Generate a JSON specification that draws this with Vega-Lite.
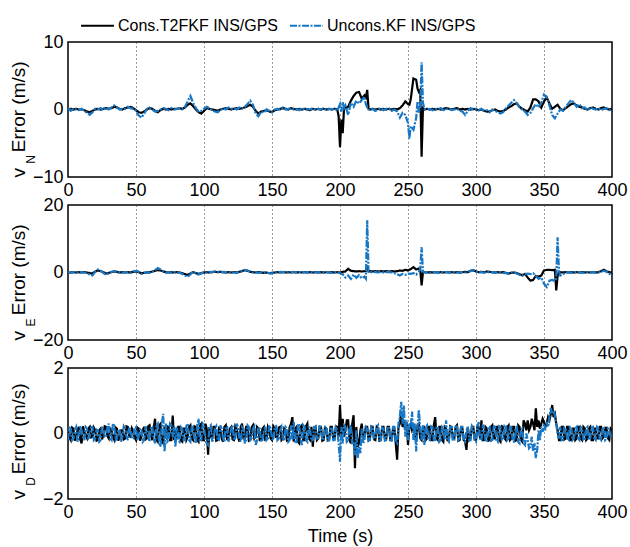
{
"$schema": "https://vega.github.io/schema/vega-lite/v6.json",
"padding": {"left": 8, "top": 8, "right": 2, "bottom": 0},
"background": "white",
"config": {
 "view": {"stroke": "#000", "strokeWidth": 1.5},
 "axis": {"labelFont": "Liberation Sans", "labelFontSize": 18, "labelColor": "#000", "titleFont": "Liberation Sans", "titleFontSize": 19, "titleFontWeight": "normal", "titleColor": "#000", "domain": false, "ticks": false, "labelFlush": false, "labelPadding": 5, "labelOverlap": false},
 "axisX": {"grid": true, "gridDash": [1, 3], "gridColor": "#333", "gridWidth": 1, "gridOpacity": 1, "labelPadding": 4, "titlePadding": 6, "titleFontSize": 18},
 "axisY": {"grid": false},
 "legend": {"labelFont": "Liberation Sans", "labelFontSize": 16, "labelColor": "#000", "labelLimit": 400, "orient": "none", "legendX": 12, "legendY": -34, "direction": "horizontal", "symbolType": "stroke", "symbolSize": 1089, "symbolStrokeWidth": 2, "labelOffset": 3, "columnPadding": 7, "padding": 0}
},
"datasets": {
"n": [
{"t":0,"c":0,"u":0.2},{"t":2,"c":0.1,"u":-0.2},{"t":4,"c":0,"u":0.1},{"t":6,"c":0.1,"u":0},{"t":8,"c":0,"u":-0.1},{"t":10,"c":0,"u":0.1},{"t":12,"c":-0.1,"u":-0.2},{"t":14,"c":-0.3,"u":-0.5},{"t":16,"c":-0.4,"u":-0.8},{"t":18,"c":-0.2,"u":-0.4},{"t":20,"c":0,"u":0.1},{"t":22,"c":0.1,"u":0},{"t":24,"c":0,"u":0.2},{"t":26,"c":0.1,"u":-0.1},{"t":28,"c":0.2,"u":0.3},{"t":30,"c":0.1,"u":0},{"t":32,"c":0.2,"u":0.3},{"t":34,"c":0.4,"u":0.6},{"t":36,"c":0.3,"u":0.3},{"t":38,"c":0.1,"u":0},{"t":40,"c":0,"u":0.1},{"t":42,"c":0.2,"u":0.1},{"t":44,"c":0.3,"u":0.4},{"t":46,"c":0.4,"u":0.2},{"t":48,"c":0.2,"u":0.1},{"t":50,"c":-0.1,"u":-0.2},{"t":52,"c":-0.4,"u":-0.9},{"t":54,"c":-0.5,"u":-1.2},{"t":56,"c":-0.3,"u":-0.6},{"t":58,"c":0,"u":0.1},{"t":60,"c":0.2,"u":0.3},{"t":62,"c":0.1,"u":0},{"t":64,"c":-0.2,"u":-0.3},{"t":66,"c":-0.4,"u":-0.2},{"t":68,"c":-0.1,"u":0},{"t":70,"c":0.1,"u":0.2},{"t":72,"c":0,"u":0.1},{"t":74,"c":0.1,"u":-0.1},{"t":76,"c":0,"u":0.2},{"t":78,"c":0.1,"u":0},{"t":80,"c":0.1,"u":0.1},{"t":82,"c":0.2,"u":0.2},{"t":84,"c":0.1,"u":0},{"t":86,"c":0.3,"u":0.4},{"t":88,"c":0.7,"u":1.2},{"t":90,"c":0.9,"u":2.0},{"t":92,"c":0.5,"u":1.0},{"t":94,"c":0,"u":0.2},{"t":96,"c":-0.4,"u":-0.3},{"t":98,"c":-0.6,"u":-0.2},{"t":100,"c":-0.2,"u":0.1},{"t":102,"c":0.2,"u":0.4},{"t":104,"c":0.1,"u":0.2},{"t":106,"c":0,"u":-0.1},{"t":108,"c":-0.1,"u":-0.3},{"t":110,"c":-0.2,"u":-0.4},{"t":112,"c":0,"u":-0.1},{"t":114,"c":0.1,"u":0.2},{"t":116,"c":0.2,"u":0},{"t":118,"c":0.1,"u":0.3},{"t":120,"c":0,"u":0.1},{"t":122,"c":0.1,"u":0.2},{"t":124,"c":0.2,"u":0},{"t":126,"c":0.1,"u":0.3},{"t":128,"c":0.2,"u":0.1},{"t":130,"c":0.3,"u":0.4},{"t":132,"c":0.5,"u":0.8},{"t":134,"c":0.7,"u":1.3},{"t":136,"c":0.4,"u":0.7},{"t":138,"c":-0.2,"u":-0.6},{"t":140,"c":-0.6,"u":-1.0},{"t":142,"c":-0.3,"u":-0.3},{"t":144,"c":-0.2,"u":-0.5},{"t":146,"c":-0.1,"u":0},{"t":148,"c":-0.3,"u":-0.2},{"t":150,"c":-0.4,"u":-0.4},{"t":152,"c":-0.1,"u":0},{"t":154,"c":0,"u":0.1},{"t":156,"c":0.1,"u":0},{"t":158,"c":0.2,"u":0.3},{"t":160,"c":0.1,"u":0},{"t":162,"c":0,"u":0.1},{"t":164,"c":0.2,"u":0.2},{"t":166,"c":0.1,"u":0},{"t":168,"c":0,"u":0.1},{"t":170,"c":0.1,"u":-0.1},{"t":172,"c":0,"u":0.2},{"t":174,"c":0.1,"u":0},{"t":176,"c":0,"u":0.1},{"t":178,"c":-0.1,"u":0},{"t":180,"c":0.1,"u":0.2},{"t":182,"c":0,"u":-0.1},{"t":184,"c":0.1,"u":0.1},{"t":186,"c":0,"u":0},{"t":188,"c":0.1,"u":0.2},{"t":190,"c":0,"u":-0.1},{"t":192,"c":0.1,"u":0.1},{"t":194,"c":0,"u":0},{"t":196,"c":0.1,"u":0.2},{"t":198,"c":0,"u":-0.2},{"t":199,"c":-1,"u":0.3},{"t":200,"c":-5.6,"u":0.8},{"t":201,"c":-1.5,"u":-0.3},{"t":202,"c":-3.5,"u":1.1},{"t":203,"c":0.3,"u":0.2},{"t":204,"c":0.2,"u":0.6},{"t":206,"c":0.4,"u":-0.8},{"t":208,"c":1.3,"u":1.0},{"t":210,"c":2.0,"u":0.4},{"t":212,"c":2.5,"u":1.3},{"t":214,"c":2.6,"u":0.9},{"t":216,"c":1.6,"u":1.4},{"t":218,"c":2.1,"u":1.9},{"t":219,"c":1.8,"u":0.8},{"t":220,"c":2.9,"u":0.3},{"t":221,"c":0.1,"u":0},{"t":222,"c":0,"u":-0.1},{"t":224,"c":0.1,"u":0.1},{"t":226,"c":0,"u":-0.2},{"t":228,"c":0.1,"u":0},{"t":230,"c":0,"u":0.2},{"t":232,"c":0.1,"u":-0.1},{"t":234,"c":0,"u":0.1},{"t":236,"c":0.1,"u":0.2},{"t":238,"c":0,"u":-0.2},{"t":240,"c":0.1,"u":0},{"t":242,"c":0,"u":-0.3},{"t":244,"c":0.2,"u":-1.2},{"t":246,"c":0.6,"u":-0.5},{"t":248,"c":1.2,"u":-0.8},{"t":250,"c":0.8,"u":-2.0},{"t":251,"c":0.7,"u":-4.3},{"t":252,"c":1.5,"u":-2.5},{"t":254,"c":4.6,"u":-3.0},{"t":256,"c":4.4,"u":-1.3},{"t":257,"c":3.1,"u":1.2},{"t":258,"c":2.6,"u":-0.5},{"t":259,"c":2.9,"u":0.5},{"t":260,"c":-7.0,"u":7.0},{"t":261,"c":0.2,"u":1.0},{"t":262,"c":0,"u":0.1},{"t":264,"c":0.1,"u":0},{"t":266,"c":0,"u":0.1},{"t":268,"c":0.1,"u":-0.1},{"t":270,"c":0,"u":0.1},{"t":272,"c":0.1,"u":0},{"t":274,"c":0,"u":0.2},{"t":276,"c":0.1,"u":-0.1},{"t":278,"c":0.2,"u":0},{"t":280,"c":0.1,"u":0.2},{"t":282,"c":0,"u":-0.1},{"t":284,"c":0.1,"u":0},{"t":286,"c":0.2,"u":0.1},{"t":288,"c":0,"u":-0.2},{"t":290,"c":0.1,"u":-0.3},{"t":292,"c":0,"u":-0.8},{"t":294,"c":0.1,"u":-0.2},{"t":296,"c":0,"u":0.2},{"t":298,"c":0.1,"u":0},{"t":300,"c":0,"u":0.1},{"t":302,"c":-0.1,"u":-0.1},{"t":304,"c":0,"u":0.1},{"t":306,"c":-0.2,"u":-0.2},{"t":308,"c":-0.3,"u":-0.1},{"t":310,"c":-0.3,"u":-0.4},{"t":312,"c":-0.1,"u":0},{"t":314,"c":0,"u":-0.2},{"t":316,"c":-0.2,"u":-0.4},{"t":318,"c":-0.3,"u":-0.6},{"t":320,"c":-0.2,"u":-0.4},{"t":322,"c":0,"u":0.2},{"t":324,"c":0.3,"u":0.6},{"t":326,"c":0.5,"u":1.0},{"t":328,"c":0.8,"u":1.4},{"t":330,"c":0.9,"u":0.9},{"t":332,"c":0.4,"u":0.3},{"t":334,"c":0.1,"u":0},{"t":336,"c":-0.1,"u":-0.3},{"t":338,"c":-0.3,"u":-0.8},{"t":340,"c":0.3,"u":-0.5},{"t":342,"c":1.5,"u":0.2},{"t":344,"c":1.5,"u":0.8},{"t":346,"c":1.2,"u":0.3},{"t":348,"c":0.3,"u":1.0},{"t":350,"c":1.2,"u":2.2},{"t":352,"c":1.8,"u":1.8},{"t":354,"c":0.9,"u":0.6},{"t":356,"c":0.1,"u":-0.8},{"t":358,"c":0.4,"u":-1.3},{"t":360,"c":0.7,"u":-0.6},{"t":362,"c":0.1,"u":0},{"t":364,"c":-0.1,"u":-0.2},{"t":366,"c":0.2,"u":0.4},{"t":368,"c":0.5,"u":0.9},{"t":370,"c":0.8,"u":1.4},{"t":372,"c":0.9,"u":1.0},{"t":374,"c":0.6,"u":0.4},{"t":376,"c":0.4,"u":0.8},{"t":378,"c":0.3,"u":0.2},{"t":380,"c":0.1,"u":0.3},{"t":382,"c":0,"u":-0.1},{"t":384,"c":0.2,"u":0.3},{"t":386,"c":0.3,"u":0.1},{"t":388,"c":0.1,"u":0},{"t":390,"c":0,"u":0.2},{"t":392,"c":0.2,"u":-0.1},{"t":394,"c":0.3,"u":0.1},{"t":396,"c":0.1,"u":0.2},{"t":398,"c":0,"u":-0.1},{"t":400,"c":0.1,"u":0}
],
"e": [
{"t":0,"c":0,"u":0.1},{"t":2,"c":0,"u":-0.1},{"t":4,"c":0.1,"u":0.1},{"t":6,"c":0,"u":0},{"t":8,"c":0.1,"u":-0.1},{"t":10,"c":0,"u":0.1},{"t":12,"c":0.1,"u":0},{"t":14,"c":0,"u":-0.2},{"t":16,"c":-0.2,"u":-0.6},{"t":18,"c":-0.3,"u":-0.9},{"t":20,"c":0.3,"u":0.2},{"t":22,"c":0.6,"u":0.9},{"t":24,"c":0.4,"u":0.5},{"t":26,"c":0.1,"u":-0.1},{"t":28,"c":-0.3,"u":-0.7},{"t":30,"c":-0.1,"u":-0.2},{"t":32,"c":0.1,"u":0.2},{"t":34,"c":0.3,"u":0.4},{"t":36,"c":0.2,"u":0},{"t":38,"c":0,"u":0.1},{"t":40,"c":0.1,"u":-0.1},{"t":42,"c":0,"u":0.1},{"t":44,"c":0.1,"u":0},{"t":46,"c":0,"u":-0.1},{"t":48,"c":0.2,"u":0.3},{"t":50,"c":0.3,"u":0.5},{"t":52,"c":0.1,"u":0.2},{"t":54,"c":-0.2,"u":-0.4},{"t":56,"c":-0.1,"u":-0.1},{"t":58,"c":0,"u":0.1},{"t":60,"c":0.1,"u":-0.1},{"t":62,"c":0.3,"u":0.2},{"t":64,"c":0.5,"u":0.7},{"t":66,"c":0.7,"u":1.3},{"t":68,"c":0.6,"u":0.9},{"t":70,"c":0.3,"u":0.4},{"t":72,"c":0.1,"u":0},{"t":74,"c":0,"u":0.1},{"t":76,"c":0.1,"u":-0.1},{"t":78,"c":0,"u":0.1},{"t":80,"c":0.1,"u":0},{"t":82,"c":0,"u":-0.1},{"t":84,"c":-0.2,"u":-0.4},{"t":86,"c":-0.5,"u":-0.9},{"t":88,"c":-0.7,"u":-1.3},{"t":90,"c":-0.3,"u":-0.5},{"t":92,"c":0.1,"u":0.2},{"t":94,"c":-0.2,"u":-0.3},{"t":96,"c":-0.4,"u":-0.6},{"t":98,"c":-0.2,"u":-0.2},{"t":100,"c":0,"u":0.1},{"t":102,"c":0.1,"u":0},{"t":104,"c":0,"u":0.2},{"t":106,"c":0.1,"u":0.1},{"t":108,"c":0.2,"u":0.3},{"t":110,"c":0.1,"u":0.2},{"t":112,"c":0.2,"u":0},{"t":114,"c":0.1,"u":0.2},{"t":116,"c":0,"u":0.1},{"t":118,"c":0.1,"u":-0.1},{"t":120,"c":0,"u":0.1},{"t":122,"c":0.1,"u":0},{"t":124,"c":0,"u":-0.1},{"t":126,"c":0.2,"u":0.2},{"t":128,"c":0.4,"u":0.5},{"t":130,"c":0.7,"u":0.8},{"t":132,"c":0.5,"u":0.6},{"t":134,"c":0.2,"u":0.2},{"t":136,"c":0.1,"u":0},{"t":138,"c":0,"u":0.1},{"t":140,"c":0.1,"u":-0.1},{"t":142,"c":0,"u":0},{"t":144,"c":-0.1,"u":0.1},{"t":146,"c":0,"u":-0.1},{"t":148,"c":-0.2,"u":-0.2},{"t":150,"c":-0.1,"u":-0.3},{"t":152,"c":0,"u":0.1},{"t":154,"c":0.1,"u":0},{"t":156,"c":0,"u":0.2},{"t":158,"c":0.1,"u":0.1},{"t":160,"c":0,"u":0.2},{"t":162,"c":0.1,"u":0},{"t":164,"c":0,"u":0.1},{"t":166,"c":0.1,"u":0.2},{"t":168,"c":0,"u":0},{"t":170,"c":0.1,"u":0.1},{"t":172,"c":0,"u":0.2},{"t":174,"c":0.1,"u":0},{"t":176,"c":0,"u":0.1},{"t":178,"c":0.1,"u":-0.1},{"t":180,"c":0,"u":0.1},{"t":182,"c":0.1,"u":0},{"t":184,"c":0,"u":0.1},{"t":186,"c":0.1,"u":-0.1},{"t":188,"c":0,"u":0},{"t":190,"c":0.1,"u":0.1},{"t":192,"c":0,"u":0},{"t":194,"c":0.1,"u":-0.1},{"t":196,"c":0,"u":0},{"t":198,"c":0.1,"u":0.1},{"t":200,"c":0,"u":-0.2},{"t":202,"c":0.2,"u":-0.5},{"t":204,"c":0.3,"u":-1.5},{"t":206,"c":1.1,"u":-0.9},{"t":208,"c":0.5,"u":-1.9},{"t":210,"c":0.4,"u":-0.6},{"t":212,"c":0.3,"u":-1.6},{"t":214,"c":0.4,"u":-0.8},{"t":216,"c":0.3,"u":-1.7},{"t":218,"c":0.4,"u":-1.2},{"t":219,"c":0.5,"u":-1.8},{"t":220,"c":1.4,"u":15.5},{"t":221,"c":0.3,"u":0.2},{"t":222,"c":0.4,"u":0},{"t":224,"c":0.3,"u":0.2},{"t":226,"c":0.4,"u":0.1},{"t":228,"c":0.3,"u":0},{"t":230,"c":0.4,"u":0.2},{"t":232,"c":0.3,"u":0},{"t":234,"c":0.4,"u":0.1},{"t":236,"c":0.3,"u":0.2},{"t":238,"c":0.4,"u":0},{"t":240,"c":0.3,"u":-0.2},{"t":242,"c":0.4,"u":-0.5},{"t":244,"c":0.6,"u":-0.9},{"t":246,"c":0.5,"u":-0.4},{"t":248,"c":0.8,"u":-0.7},{"t":250,"c":0.6,"u":-0.3},{"t":252,"c":1.0,"u":-0.4},{"t":254,"c":1.6,"u":-0.2},{"t":256,"c":0.9,"u":-0.6},{"t":258,"c":1.2,"u":0.3},{"t":259,"c":0.8,"u":1.0},{"t":260,"c":-3.8,"u":7.5},{"t":261,"c":0,"u":0.3},{"t":262,"c":0.1,"u":0},{"t":264,"c":0,"u":0.1},{"t":266,"c":0.1,"u":-0.1},{"t":268,"c":0,"u":0},{"t":270,"c":0.1,"u":0.1},{"t":272,"c":0,"u":-0.1},{"t":274,"c":0.1,"u":0.1},{"t":276,"c":0,"u":0},{"t":278,"c":0.1,"u":0.2},{"t":280,"c":0,"u":0},{"t":282,"c":0.1,"u":-0.1},{"t":284,"c":0,"u":0.1},{"t":286,"c":0.1,"u":0},{"t":288,"c":0,"u":-0.1},{"t":290,"c":0.1,"u":0.1},{"t":292,"c":0.2,"u":0},{"t":294,"c":0.1,"u":0.2},{"t":296,"c":0.5,"u":0.4},{"t":298,"c":0.7,"u":0.7},{"t":300,"c":0.3,"u":0.2},{"t":302,"c":0.1,"u":0},{"t":304,"c":0.2,"u":0.1},{"t":306,"c":0.1,"u":-0.1},{"t":308,"c":0.3,"u":0.2},{"t":310,"c":0.2,"u":0},{"t":312,"c":0.1,"u":0.1},{"t":314,"c":0,"u":-0.1},{"t":316,"c":0.1,"u":0},{"t":318,"c":0,"u":0.1},{"t":320,"c":0.1,"u":-0.1},{"t":322,"c":-0.1,"u":-0.2},{"t":324,"c":-0.3,"u":-0.4},{"t":326,"c":-0.1,"u":0},{"t":328,"c":0,"u":0.1},{"t":330,"c":-0.2,"u":-0.3},{"t":332,"c":-0.5,"u":-0.7},{"t":334,"c":-0.8,"u":-1.0},{"t":336,"c":-0.4,"u":-0.5},{"t":338,"c":-1.5,"u":-0.3},{"t":340,"c":-2.4,"u":-0.5},{"t":342,"c":-2.2,"u":-0.2},{"t":344,"c":-1.0,"u":-1.0},{"t":346,"c":-1.2,"u":-1.9},{"t":348,"c":-0.9,"u":-1.5},{"t":350,"c":0.6,"u":-3.3},{"t":352,"c":0.8,"u":-4.3},{"t":354,"c":0.8,"u":-2.4},{"t":356,"c":0.7,"u":-2.2},{"t":358,"c":0.8,"u":-2.5},{"t":359,"c":-5.3,"u":-1.8},{"t":360,"c":-1.0,"u":10.4},{"t":361,"c":0.2,"u":0.5},{"t":362,"c":0.1,"u":-0.9},{"t":364,"c":0,"u":-0.5},{"t":366,"c":0.1,"u":0},{"t":368,"c":0,"u":0.1},{"t":370,"c":0.1,"u":-0.1},{"t":372,"c":0,"u":0.1},{"t":374,"c":0.1,"u":0},{"t":376,"c":0,"u":0.1},{"t":378,"c":0.1,"u":-0.1},{"t":380,"c":0,"u":0},{"t":382,"c":0.1,"u":0.1},{"t":384,"c":0,"u":0},{"t":386,"c":0.1,"u":0.1},{"t":388,"c":0,"u":-0.1},{"t":390,"c":0.1,"u":0},{"t":392,"c":0.4,"u":0.2},{"t":394,"c":0.8,"u":0.5},{"t":396,"c":0.3,"u":0.2},{"t":398,"c":0.1,"u":-0.4},{"t":400,"c":0,"u":0}
],
"d": [
{"t":0,"c":0.1,"u":-0.2},{"t":1,"c":-0.12,"u":0.18},{"t":2,"c":-0.2,"u":0.15},{"t":3,"c":0.18,"u":-0.2},{"t":4,"c":0.15,"u":-0.15},{"t":5,"c":-0.22,"u":0.12},{"t":6,"c":-0.1,"u":0.2},{"t":7,"c":0.1,"u":-0.25},{"t":8,"c":0.2,"u":-0.1},{"t":9,"c":-0.18,"u":0.22},
{"t":10,"c":-0.3,"u":0.1},{"t":11,"c":0.22,"u":-0.1},{"t":12,"c":0.05,"u":-0.2},{"t":13,"c":-0.08,"u":0.2},{"t":14,"c":-0.15,"u":0.15},{"t":15,"c":0.15,"u":-0.15},{"t":16,"c":0.2,"u":-0.1},{"t":17,"c":-0.12,"u":0.18},{"t":18,"c":-0.1,"u":0.2},{"t":19,"c":0.18,"u":-0.2},
{"t":20,"c":0.1,"u":-0.15},{"t":21,"c":-0.22,"u":0.12},{"t":22,"c":-0.2,"u":0.1},{"t":23,"c":0.1,"u":-0.25},{"t":24,"c":0.15,"u":-0.2},{"t":25,"c":-0.18,"u":0.22},{"t":26,"c":-0.05,"u":0.15},{"t":27,"c":0.22,"u":-0.1},{"t":28,"c":0.2,"u":-0.1},{"t":29,"c":-0.08,"u":0.2},
{"t":30,"c":-0.15,"u":0.3},{"t":31,"c":0.15,"u":-0.15},{"t":32,"c":0.1,"u":-0.2},{"t":33,"c":-0.12,"u":0.3},{"t":34,"c":-0.2,"u":0.25},{"t":35,"c":0.18,"u":-0.2},{"t":36,"c":0.15,"u":-0.15},{"t":37,"c":-0.22,"u":0.12},{"t":38,"c":-0.1,"u":0.1},{"t":39,"c":0.1,"u":-0.25},
{"t":40,"c":0.1,"u":-0.1},{"t":41,"c":-0.18,"u":0.22},{"t":42,"c":-0.15,"u":0.15},{"t":43,"c":0.22,"u":-0.1},{"t":44,"c":0.2,"u":-0.2},{"t":45,"c":-0.08,"u":0.2},{"t":46,"c":-0.1,"u":0.1},{"t":47,"c":0.15,"u":-0.15},{"t":48,"c":0.05,"u":-0.15},{"t":49,"c":-0.12,"u":0.18},
{"t":50,"c":-0.2,"u":0.2},{"t":51,"c":0.18,"u":-0.2},{"t":52,"c":0.15,"u":-0.1},{"t":53,"c":-0.22,"u":0.12},{"t":54,"c":-0.1,"u":0.15},{"t":55,"c":0.1,"u":-0.25},{"t":56,"c":0.2,"u":-0.2},{"t":57,"c":-0.18,"u":0.22},{"t":58,"c":-0.15,"u":0.1},{"t":59,"c":0.22,"u":-0.1},
{"t":60,"c":0.25,"u":-0.25},{"t":61,"c":-0.08,"u":0.2},{"t":62,"c":-0.2,"u":0.2},{"t":63,"c":0.15,"u":-0.15},{"t":64,"c":0.45,"u":-0.3},{"t":65,"c":-0.2,"u":0.25},{"t":66,"c":-0.25,"u":0.3},{"t":67,"c":0.25,"u":-0.3},{"t":68,"c":0.3,"u":-0.4},{"t":69,"c":-0.25,"u":0.3},
{"t":70,"c":-0.3,"u":0.6},{"t":71,"c":0.2,"u":-0.55},{"t":72,"c":-0.15,"u":0.3},{"t":73,"c":0.22,"u":-0.25},{"t":74,"c":0.2,"u":-0.2},{"t":75,"c":-0.2,"u":0.3},{"t":76,"c":-0.2,"u":0.25},{"t":77,"c":0.55,"u":-0.1},{"t":78,"c":-0.2,"u":0.2},{"t":79,"c":0.1,"u":-0.4},
{"t":80,"c":-0.15,"u":0.2},{"t":81,"c":0.2,"u":-0.2},{"t":82,"c":0.2,"u":-0.25},{"t":83,"c":-0.22,"u":0.2},{"t":84,"c":-0.25,"u":0.15},{"t":85,"c":0.15,"u":-0.2},{"t":86,"c":0.15,"u":-0.2},{"t":87,"c":-0.2,"u":0.22},{"t":88,"c":-0.1,"u":0.3},{"t":89,"c":0.2,"u":-0.2},
{"t":90,"c":0.25,"u":-0.25},{"t":91,"c":-0.15,"u":0.2},{"t":92,"c":-0.2,"u":0.2},{"t":93,"c":0.22,"u":-0.2},{"t":94,"c":0.2,"u":-0.3},{"t":95,"c":-0.2,"u":0.25},{"t":96,"c":-0.25,"u":0.45},{"t":97,"c":0.25,"u":-0.25},{"t":98,"c":0.3,"u":-0.2},{"t":99,"c":-0.2,"u":0.3},
{"t":100,"c":-0.2,"u":0.25},{"t":101,"c":0.3,"u":-0.2},{"t":102,"c":0.15,"u":-0.3},{"t":103,"c":-0.65,"u":-0.35},{"t":104,"c":0.2,"u":0.2},{"t":105,"c":-0.1,"u":0.25},{"t":106,"c":-0.15,"u":-0.25},{"t":107,"c":0.2,"u":-0.15},{"t":108,"c":0.2,"u":0.15},{"t":109,"c":-0.22,"u":0.22},
{"t":110,"c":-0.2,"u":-0.2},{"t":111,"c":0.15,"u":-0.2},{"t":112,"c":0.1,"u":0.25},{"t":113,"c":-0.15,"u":0.15},{"t":114,"c":-0.25,"u":-0.15},{"t":115,"c":0.2,"u":-0.25},{"t":116,"c":0.25,"u":0.2},{"t":117,"c":-0.2,"u":0.2},{"t":118,"c":-0.1,"u":-0.25},{"t":119,"c":0.15,"u":-0.1},
{"t":120,"c":0.2,"u":0.15},{"t":121,"c":-0.18,"u":0.25},{"t":122,"c":-0.2,"u":-0.2},{"t":123,"c":0.22,"u":-0.15},{"t":124,"c":0.15,"u":0.3},{"t":125,"c":-0.1,"u":0.2},{"t":126,"c":-0.25,"u":-0.15},{"t":127,"c":0.2,"u":-0.25},{"t":128,"c":0.3,"u":0.2},{"t":129,"c":-0.15,"u":0.15},
{"t":130,"c":-0.15,"u":-0.3},{"t":131,"c":0.2,"u":-0.2},{"t":132,"c":0.2,"u":0.25},{"t":133,"c":-0.22,"u":0.2},{"t":134,"c":-0.2,"u":-0.2},{"t":135,"c":0.18,"u":-0.15},{"t":136,"c":0.25,"u":0.15},{"t":137,"c":-0.15,"u":0.22},{"t":138,"c":-0.1,"u":-0.35},{"t":139,"c":0.2,"u":-0.2},
{"t":140,"c":0.15,"u":0.2},{"t":141,"c":-0.2,"u":0.15},{"t":142,"c":-0.2,"u":-0.25},{"t":143,"c":0.15,"u":-0.2},{"t":144,"c":0.2,"u":0.1},{"t":145,"c":-0.18,"u":0.2},{"t":146,"c":-0.15,"u":-0.2},{"t":147,"c":0.2,"u":-0.15},{"t":148,"c":0.1,"u":0.25},{"t":149,"c":-0.15,"u":0.15},
{"t":150,"c":-0.2,"u":-0.15},{"t":151,"c":0.22,"u":-0.2},{"t":152,"c":0.15,"u":0.2},{"t":153,"c":-0.1,"u":0.22},{"t":154,"c":-0.1,"u":-0.2},{"t":155,"c":0.18,"u":-0.15},{"t":156,"c":0.2,"u":0.1},{"t":157,"c":-0.2,"u":0.2},{"t":158,"c":-0.15,"u":-0.15},{"t":159,"c":0.15,"u":-0.22},
{"t":160,"c":0.1,"u":0.2},{"t":161,"c":-0.22,"u":0.15},{"t":162,"c":-0.2,"u":-0.25},{"t":163,"c":0.2,"u":-0.2},{"t":164,"c":0.3,"u":0.25},{"t":165,"c":0.5,"u":-0.2},{"t":166,"c":-0.25,"u":0.35},{"t":167,"c":0.15,"u":-0.25},{"t":168,"c":0.2,"u":-0.3},{"t":169,"c":-0.25,"u":0.25},
{"t":170,"c":-0.3,"u":0.3},{"t":171,"c":0.2,"u":-0.2},{"t":172,"c":0.25,"u":-0.35},{"t":173,"c":-0.2,"u":0.25},{"t":174,"c":-0.2,"u":0.2},{"t":175,"c":0.22,"u":-0.2},{"t":176,"c":0.3,"u":-0.25},{"t":177,"c":-0.15,"u":0.2},{"t":178,"c":-0.2,"u":0.15},{"t":179,"c":0.2,"u":-0.22},
{"t":180,"c":-0.4,"u":-0.2},{"t":181,"c":0.15,"u":0.2},{"t":182,"c":0.2,"u":0.2},{"t":183,"c":-0.2,"u":-0.15},{"t":184,"c":-0.15,"u":-0.15},{"t":185,"c":0.2,"u":0.22},{"t":186,"c":0.2,"u":0.2},{"t":187,"c":-0.22,"u":-0.2},{"t":188,"c":-0.2,"u":-0.15},{"t":189,"c":0.18,"u":0.2},
{"t":190,"c":0.15,"u":0.2},{"t":191,"c":-0.2,"u":-0.22},{"t":192,"c":-0.2,"u":-0.2},{"t":193,"c":0.2,"u":0.15},{"t":194,"c":0.2,"u":0.15},{"t":195,"c":-0.15,"u":-0.2},{"t":196,"c":-0.15,"u":-0.2},{"t":197,"c":0.22,"u":0.18},{"t":198,"c":0.2,"u":0.1},{"t":199,"c":-0.1,"u":-0.3},
{"t":200,"c":0.87,"u":-0.86},{"t":201,"c":-0.1,"u":0.2},{"t":202,"c":0.45,"u":-0.3},{"t":203,"c":-0.1,"u":0.25},{"t":204,"c":0.1,"u":0.2},{"t":205,"c":0.4,"u":-0.25},{"t":206,"c":0.4,"u":-0.2},{"t":207,"c":-0.2,"u":0.2},{"t":208,"c":-0.3,"u":0.25},{"t":209,"c":0.3,"u":-0.3},
{"t":210,"c":0.56,"u":-0.3},{"t":211,"c":-1.06,"u":-0.66},{"t":212,"c":0.2,"u":0.1},{"t":213,"c":-0.4,"u":-0.75},{"t":214,"c":-0.3,"u":-0.4},{"t":215,"c":0.1,"u":-0.6},{"t":216,"c":0.3,"u":0.15},{"t":217,"c":-0.2,"u":-0.3},{"t":218,"c":-0.1,"u":-0.2},{"t":219,"c":0.2,"u":0.2},
{"t":220,"c":0.2,"u":0.15},{"t":221,"c":-0.2,"u":-0.2},{"t":222,"c":-0.15,"u":-0.2},{"t":223,"c":0.2,"u":0.22},{"t":224,"c":0.2,"u":0.2},{"t":225,"c":-0.18,"u":-0.15},{"t":226,"c":-0.2,"u":-0.15},{"t":227,"c":0.2,"u":0.2},{"t":228,"c":0.15,"u":0.25},{"t":229,"c":-0.22,"u":-0.2},
{"t":230,"c":-0.2,"u":-0.2},{"t":231,"c":0.2,"u":0.18},{"t":232,"c":0.2,"u":0.15},{"t":233,"c":-0.15,"u":-0.22},{"t":234,"c":-0.15,"u":-0.2},{"t":235,"c":0.2,"u":0.2},{"t":236,"c":0.2,"u":0.2},{"t":237,"c":-0.2,"u":-0.2},{"t":238,"c":-0.2,"u":-0.25},{"t":239,"c":0.15,"u":0.2},
{"t":240,"c":0.15,"u":0.2},{"t":241,"c":-0.3,"u":-0.25},{"t":242,"c":-0.8,"u":-0.3},{"t":243,"c":0.2,"u":0.3},{"t":244,"c":0.3,"u":0.5},{"t":245,"c":0.67,"u":0.97},{"t":246,"c":0.2,"u":0.3},{"t":247,"c":0.3,"u":0.85},{"t":248,"c":0.1,"u":-0.1},{"t":249,"c":0.35,"u":0.4},
{"t":250,"c":-0.35,"u":-0.2},{"t":251,"c":0.2,"u":0.3},{"t":252,"c":0.3,"u":0.2},{"t":253,"c":0.1,"u":0.67},{"t":254,"c":0.2,"u":-0.2},{"t":255,"c":-0.1,"u":0.3},{"t":256,"c":-0.2,"u":-0.55},{"t":257,"c":0.25,"u":0.2},{"t":258,"c":0.3,"u":0.72},{"t":259,"c":-0.15,"u":0.1},
{"t":260,"c":-0.2,"u":-0.2},{"t":261,"c":0.2,"u":0.25},{"t":262,"c":0.2,"u":-0.35},{"t":263,"c":-0.2,"u":0.2},{"t":264,"c":-0.15,"u":0.25},{"t":265,"c":0.2,"u":-0.2},{"t":266,"c":0.2,"u":-0.2},{"t":267,"c":-0.2,"u":0.22},{"t":268,"c":-0.2,"u":0.2},{"t":269,"c":0.25,"u":-0.2},
{"t":270,"c":0.5,"u":-0.25},{"t":271,"c":-0.15,"u":0.2},{"t":272,"c":-0.2,"u":0.2},{"t":273,"c":0.2,"u":-0.25},{"t":274,"c":0.2,"u":-0.2},{"t":275,"c":-0.2,"u":0.2},{"t":276,"c":-0.25,"u":0.15},{"t":277,"c":0.2,"u":-0.2},{"t":278,"c":0.15,"u":0.4},{"t":279,"c":-0.2,"u":-0.2},
{"t":280,"c":-0.2,"u":-0.25},{"t":281,"c":0.22,"u":0.2},{"t":282,"c":0.2,"u":0.2},{"t":283,"c":-0.15,"u":-0.22},{"t":284,"c":-0.15,"u":-0.2},{"t":285,"c":0.2,"u":0.2},{"t":286,"c":0.25,"u":0.25},{"t":287,"c":-0.22,"u":-0.2},{"t":288,"c":-0.2,"u":-0.15},{"t":289,"c":0.18,"u":0.2},
{"t":290,"c":0.15,"u":0.2},{"t":291,"c":-0.2,"u":-0.2},{"t":292,"c":-0.25,"u":-0.25},{"t":293,"c":-0.5,"u":0.1},{"t":294,"c":0.2,"u":0.2},{"t":295,"c":-0.2,"u":-0.2},{"t":296,"c":-0.15,"u":-0.2},{"t":297,"c":0.2,"u":0.22},{"t":298,"c":0.2,"u":0.15},{"t":299,"c":-0.18,"u":-0.2},
{"t":300,"c":-0.2,"u":-0.25},{"t":301,"c":0.2,"u":0.2},{"t":302,"c":0.2,"u":0.35},{"t":303,"c":-0.15,"u":-0.2},{"t":304,"c":0.4,"u":-0.2},{"t":305,"c":-0.2,"u":0.25},{"t":306,"c":-0.2,"u":0.2},{"t":307,"c":0.2,"u":-0.2},{"t":308,"c":0.15,"u":-0.25},{"t":309,"c":-0.22,"u":0.2},
{"t":310,"c":-0.2,"u":0.2},{"t":311,"c":0.2,"u":-0.22},{"t":312,"c":0.25,"u":-0.2},{"t":313,"c":-0.15,"u":0.2},{"t":314,"c":-0.15,"u":0.25},{"t":315,"c":0.2,"u":-0.2},{"t":316,"c":0.2,"u":-0.25},{"t":317,"c":-0.2,"u":0.22},{"t":318,"c":-0.25,"u":0.2},{"t":319,"c":0.22,"u":-0.2},
{"t":320,"c":0.2,"u":-0.2},{"t":321,"c":-0.15,"u":0.25},{"t":322,"c":-0.2,"u":0.25},{"t":323,"c":0.2,"u":-0.2},{"t":324,"c":0.25,"u":-0.15},{"t":325,"c":-0.2,"u":0.2},{"t":326,"c":-0.15,"u":0.2},{"t":327,"c":0.2,"u":-0.25},{"t":328,"c":0.2,"u":-0.25},{"t":329,"c":-0.22,"u":0.15},
{"t":330,"c":-0.2,"u":0.2},{"t":331,"c":0.25,"u":-0.25},{"t":332,"c":0.2,"u":-0.3},{"t":333,"c":-0.2,"u":0.1},{"t":334,"c":-0.25,"u":0.15},{"t":335,"c":0.4,"u":-0.3},{"t":336,"c":0.3,"u":-0.35},{"t":337,"c":0.1,"u":0},{"t":338,"c":0.4,"u":-0.2},{"t":339,"c":0.1,"u":-0.45},
{"t":340,"c":0.2,"u":-0.4},{"t":341,"c":0.45,"u":-0.1},{"t":342,"c":0.3,"u":-0.55},{"t":343,"c":0.1,"u":-0.3},{"t":344,"c":0.77,"u":-0.75},{"t":345,"c":0.2,"u":-0.5},{"t":346,"c":0.4,"u":0.1},{"t":347,"c":0.15,"u":-0.2},{"t":348,"c":0.3,"u":0.2},{"t":349,"c":0.45,"u":0.05},
{"t":350,"c":0.35,"u":0.3},{"t":351,"c":0.2,"u":0.1},{"t":352,"c":0.3,"u":0.35},{"t":353,"c":0.5,"u":0.2},{"t":354,"c":0.4,"u":0.5},{"t":355,"c":0.6,"u":0.77},{"t":356,"c":0.87,"u":0.6},{"t":357,"c":0.5,"u":0.7},{"t":358,"c":0.6,"u":0.56},{"t":359,"c":0.3,"u":0.3},
{"t":360,"c":0.1,"u":0},{"t":361,"c":-0.2,"u":-0.15},{"t":362,"c":-0.2,"u":0.2},{"t":363,"c":0.2,"u":-0.2},{"t":364,"c":0.2,"u":-0.2},{"t":365,"c":-0.18,"u":0.18},{"t":366,"c":-0.15,"u":0.15},{"t":367,"c":0.2,"u":-0.18},{"t":368,"c":0.2,"u":-0.2},{"t":369,"c":-0.2,"u":0.2},
{"t":370,"c":-0.2,"u":0.2},{"t":371,"c":0.15,"u":-0.2},{"t":372,"c":0.15,"u":-0.15},{"t":373,"c":-0.2,"u":0.15},{"t":374,"c":-0.15,"u":0.2},{"t":375,"c":0.2,"u":-0.15},{"t":376,"c":0.2,"u":-0.2},{"t":377,"c":-0.15,"u":0.2},{"t":378,"c":-0.2,"u":0.15},{"t":379,"c":0.2,"u":-0.2},
{"t":380,"c":0.15,"u":-0.2},{"t":381,"c":-0.2,"u":0.15},{"t":382,"c":-0.15,"u":0.2},{"t":383,"c":0.15,"u":-0.2},{"t":384,"c":0.2,"u":-0.15},{"t":385,"c":-0.2,"u":0.18},{"t":386,"c":-0.2,"u":0.2},{"t":387,"c":0.15,"u":-0.15},{"t":388,"c":0.15,"u":-0.2},{"t":389,"c":-0.15,"u":0.2},
{"t":390,"c":-0.15,"u":0.15},{"t":391,"c":0.2,"u":-0.15},{"t":392,"c":0.2,"u":-0.2},{"t":393,"c":-0.15,"u":0.15},{"t":394,"c":-0.1,"u":0.2},{"t":395,"c":0.2,"u":-0.2},{"t":396,"c":0.15,"u":-0.15},{"t":397,"c":-0.15,"u":0.15},{"t":398,"c":-0.2,"u":0.1},{"t":399,"c":0.15,"u":-0.1},
{"t":400,"c":0.1,"u":-0.05}
]
},
"vconcat": [
{
 "data": {"name": "n"},
 "transform": [{"fold": ["c", "u"], "as": ["s", "v"]}],
 "width": 544, "height": 135,
 "layer": [
  {"mark": {"type": "line", "strokeWidth": 2.2, "clip": true},
   "encoding": {
    "x": {"field": "t", "type": "quantitative", "scale": {"domain": [0, 400], "nice": false}, "axis": {"values": [0,50,100,150,200,250,300,350,400], "title": null}},
    "y": {"field": "v", "type": "quantitative", "scale": {"domain": [-10, 10], "nice": false}, "axis": {"values": [-10, 0, 10], "title": "v\u00a0\u00a0\u00a0Error (m/s)", "titleX": -44, "titleY": 135, "titleAlign": "left", "titleBaseline": "alphabetic", "titleAngle": 270}},
    "color": {"field": "s", "type": "nominal", "scale": {"domain": ["c", "u"], "range": ["#000000", "#1777c4"]}, "legend": {"title": null, "labelExpr": "datum.value == 'c' ? 'Cons.T2FKF INS/GPS' : 'Uncons.KF INS/GPS'"}},
    "strokeDash": {"field": "s", "type": "nominal", "scale": {"domain": ["c", "u"], "range": [[1, 0], [7, 1.5, 2, 1.5]]}, "legend": {"title": null, "labelExpr": "datum.value == 'c' ? 'Cons.T2FKF INS/GPS' : 'Uncons.KF INS/GPS'"}}
   }},
  {"mark": {"type": "point", "opacity": 0},
   "encoding": {
    "y": {"field": "v", "type": "quantitative", "axis": {"orient": "left", "labels": false, "ticks": false, "domain": false, "grid": false, "title": "N", "titleFontSize": 12, "titleX": -34, "titleY": 117, "titleAlign": "center", "titleBaseline": "alphabetic", "titleAngle": 270}}
   }}
 ],
 "resolve": {"axis": {"y": "independent"}}
},
{
 "data": {"name": "e"},
 "transform": [{"fold": ["c", "u"], "as": ["s", "v"]}],
 "width": 544, "height": 135,
 "layer": [
  {"mark": {"type": "line", "strokeWidth": 2.2, "clip": true},
   "encoding": {
    "x": {"field": "t", "type": "quantitative", "scale": {"domain": [0, 400], "nice": false}, "axis": {"values": [0,50,100,150,200,250,300,350,400], "title": null}},
    "y": {"field": "v", "type": "quantitative", "scale": {"domain": [-20, 20], "nice": false}, "axis": {"values": [-20, 0, 20], "title": "v\u00a0\u00a0\u00a0Error (m/s)", "titleX": -44, "titleY": 135, "titleAlign": "left", "titleBaseline": "alphabetic", "titleAngle": 270}},
    "color": {"field": "s", "type": "nominal", "scale": {"domain": ["c", "u"], "range": ["#000000", "#1777c4"]}, "legend": {"title": null, "labelExpr": "datum.value == 'c' ? 'Cons.T2FKF INS/GPS' : 'Uncons.KF INS/GPS'"}},
    "strokeDash": {"field": "s", "type": "nominal", "scale": {"domain": ["c", "u"], "range": [[1, 0], [7, 1.5, 2, 1.5]]}, "legend": {"title": null, "labelExpr": "datum.value == 'c' ? 'Cons.T2FKF INS/GPS' : 'Uncons.KF INS/GPS'"}}
   }},
  {"mark": {"type": "point", "opacity": 0},
   "encoding": {
    "y": {"field": "v", "type": "quantitative", "axis": {"orient": "left", "labels": false, "ticks": false, "domain": false, "grid": false, "title": "E", "titleFontSize": 12, "titleX": -34, "titleY": 117, "titleAlign": "center", "titleBaseline": "alphabetic", "titleAngle": 270}}
   }}
 ],
 "resolve": {"axis": {"y": "independent"}}
},
{
 "data": {"name": "d"},
 "transform": [{"fold": ["c", "u"], "as": ["s", "v"]}],
 "width": 544, "height": 131,
 "layer": [
  {"mark": {"type": "line", "strokeWidth": 2.2, "clip": true},
   "encoding": {
    "x": {"field": "t", "type": "quantitative", "scale": {"domain": [0, 400], "nice": false}, "axis": {"values": [0,50,100,150,200,250,300,350,400], "title": "Time (s)"}},
    "y": {"field": "v", "type": "quantitative", "scale": {"domain": [-2, 2], "nice": false}, "axis": {"values": [-2, 0, 2], "title": "v\u00a0\u00a0\u00a0Error (m/s)", "titleX": -44, "titleY": 131, "titleAlign": "left", "titleBaseline": "alphabetic", "titleAngle": 270}},
    "color": {"field": "s", "type": "nominal", "scale": {"domain": ["c", "u"], "range": ["#000000", "#1777c4"]}, "legend": {"title": null, "labelExpr": "datum.value == 'c' ? 'Cons.T2FKF INS/GPS' : 'Uncons.KF INS/GPS'"}},
    "strokeDash": {"field": "s", "type": "nominal", "scale": {"domain": ["c", "u"], "range": [[1, 0], [7, 1.5, 2, 1.5]]}, "legend": {"title": null, "labelExpr": "datum.value == 'c' ? 'Cons.T2FKF INS/GPS' : 'Uncons.KF INS/GPS'"}}
   }},
  {"mark": {"type": "point", "opacity": 0},
   "encoding": {
    "y": {"field": "v", "type": "quantitative", "axis": {"orient": "left", "labels": false, "ticks": false, "domain": false, "grid": false, "title": "D", "titleFontSize": 12, "titleX": -34, "titleY": 113, "titleAlign": "center", "titleBaseline": "alphabetic", "titleAngle": 270}}
   }}
 ],
 "resolve": {"axis": {"y": "independent"}}
}
],
"spacing": 28,
"bounds": "flush"
}
